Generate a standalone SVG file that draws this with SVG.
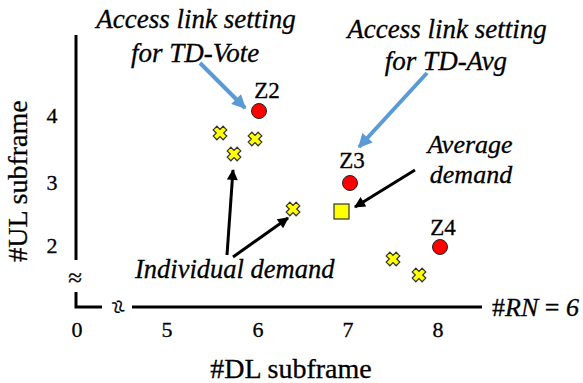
<svg xmlns="http://www.w3.org/2000/svg" width="583" height="383" viewBox="0 0 583 383">
  <style>
    text { font-family: "Liberation Serif", "Times New Roman", serif; fill: #000; stroke: #000; stroke-width: 0.3; }
    .it { font-style: italic; }
    .axis { stroke: #000; stroke-width: 3; fill: none; }
    .ptr { stroke: #000; stroke-width: 3; fill: none; }
    .blue { stroke: #5b9bd5; stroke-width: 4; fill: none; }
    .demand { fill: #ffff00; stroke: #333; stroke-width: 1.2; }
    .site { fill: #ff0000; stroke: #222; stroke-width: 1; }
  </style>
  <defs>
    <marker id="headBlack" viewBox="0 0 10 10" refX="9" refY="5" markerWidth="13" markerHeight="11" markerUnits="userSpaceOnUse" orient="auto">
      <path d="M0,0 L10,5 L0,10 Z" fill="#000"/>
    </marker>
    <marker id="headBlue" viewBox="0 0 10 10" refX="9" refY="5" markerWidth="16" markerHeight="14" markerUnits="userSpaceOnUse" orient="auto">
      <path d="M0,0 L10,5 L0,10 Z" fill="#5b9bd5"/>
    </marker>
    <!-- cross glyph for individual demand points -->
    <path id="cross" d="M-2.6,-7 L2.6,-7 L2.6,-2.6 L7,-2.6 L7,2.6 L2.6,2.6 L2.6,7 L-2.6,7 L-2.6,2.6 L-7,2.6 L-7,-2.6 L-2.6,-2.6 Z" transform="rotate(45)"/>
  </defs>

  <!-- axes -->
  <g id="axes">
    <line class="axis" x1="76" y1="35" x2="76" y2="260"/>
    <path class="axis" d="M76,292 V307 H102"/>
    <line class="axis" x1="132" y1="307" x2="482" y2="307"/>
    <text x="75" y="286" font-size="25" text-anchor="middle">≈</text>
    <text font-size="25" text-anchor="middle" transform="translate(118,307) rotate(72)" dy="8">≈</text>
    <!-- tick labels -->
    <g font-size="22" text-anchor="middle">
      <text x="77" y="337">0</text>
      <text x="167" y="337">5</text>
      <text x="258" y="337">6</text>
      <text x="348" y="337">7</text>
      <text x="438" y="337">8</text>
      <text x="52" y="123">4</text>
      <text x="52" y="190">3</text>
      <text x="52" y="253">2</text>
    </g>
    <text x="291" y="378" font-size="28" text-anchor="middle">#DL subframe</text>
    <text font-size="28" text-anchor="middle" transform="translate(27,181) rotate(-90)">#UL subframe</text>
    <text x="492" y="316" font-size="26">#<tspan class="it">RN</tspan> = <tspan class="it">6</tspan></text>
  </g>

  <!-- connectors -->
  <g id="connectors">
    <line class="blue" x1="200" y1="63" x2="245" y2="108" marker-end="url(#headBlue)"/>
    <line class="blue" x1="427" y1="73" x2="359" y2="147" marker-end="url(#headBlue)"/>
    <line class="ptr" x1="415" y1="170" x2="355" y2="207" marker-end="url(#headBlack)"/>
    <line class="ptr" x1="227" y1="255" x2="233" y2="170" marker-end="url(#headBlack)"/>
    <line class="ptr" x1="233" y1="257" x2="288" y2="218" marker-end="url(#headBlack)"/>
  </g>

  <!-- access link settings -->
  <g id="z2">
    <circle class="site" cx="259" cy="111" r="7.5"/>
    <text x="267" y="98" font-size="23" text-anchor="middle">Z2</text>
  </g>
  <g id="z3">
    <circle class="site" cx="350" cy="183" r="7.5"/>
    <text x="352" y="168" font-size="23" text-anchor="middle">Z3</text>
  </g>
  <g id="z4">
    <circle class="site" cx="440" cy="247" r="7.5"/>
    <text x="443" y="235" font-size="23" text-anchor="middle">Z4</text>
  </g>

  <!-- average demand -->
  <g id="avg">
    <rect class="demand" x="334" y="204" width="15" height="15"/>
  </g>

  <!-- individual demands -->
  <g id="individual">
    <use href="#cross" class="demand" transform="translate(220,133)"/>
    <use href="#cross" class="demand" transform="translate(255,139)"/>
    <use href="#cross" class="demand" transform="translate(234,154)"/>
    <use href="#cross" class="demand" transform="translate(293,209)"/>
    <use href="#cross" class="demand" transform="translate(393,259)"/>
    <use href="#cross" class="demand" transform="translate(419,275)"/>
  </g>

  <!-- annotations -->
  <g id="noteVote" font-size="27" text-anchor="middle">
    <text class="it" x="196" y="28">Access link setting</text>
    <text class="it" x="195" y="62">for TD-Vote</text>
  </g>
  <g id="noteAvg" font-size="27" text-anchor="middle">
    <text class="it" x="447" y="38">Access link setting</text>
    <text class="it" x="446" y="70">for TD-Avg</text>
  </g>
  <g id="noteAverage" font-size="26" text-anchor="middle">
    <text class="it" x="470" y="153">Average</text>
    <text class="it" x="471" y="183">demand</text>
  </g>
  <g id="noteIndividual" font-size="26.5">
    <text class="it" x="135" y="278">Individual demand</text>
  </g>
</svg>
